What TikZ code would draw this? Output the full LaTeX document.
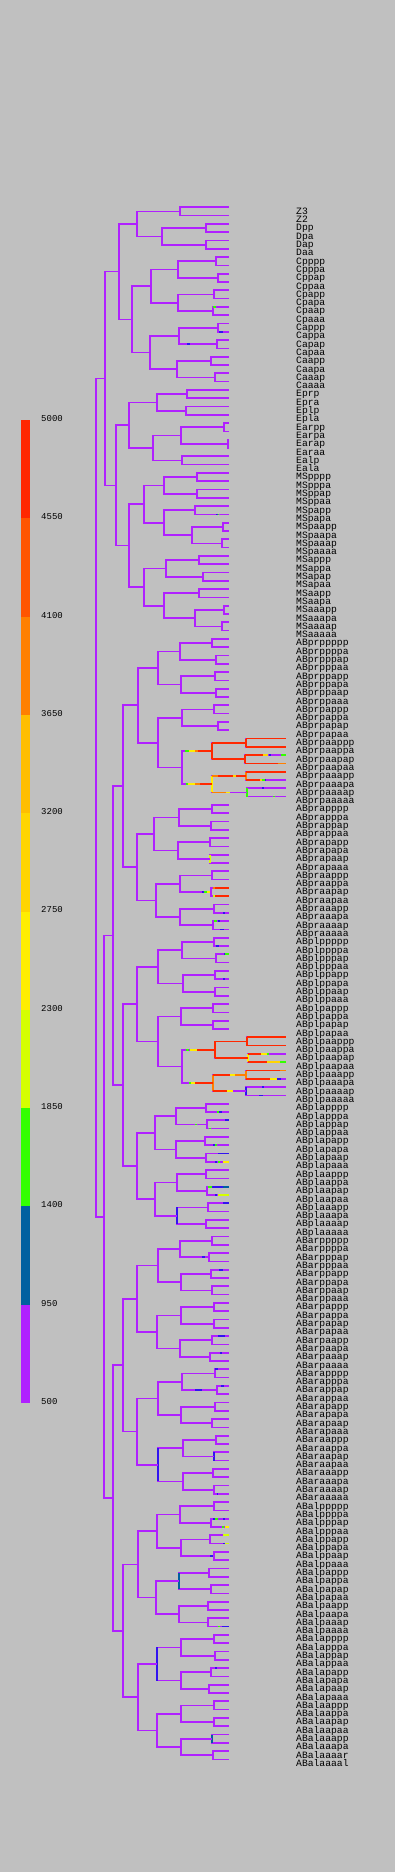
\documentclass[tikz,border=0pt]{standalone}
\usepackage{fontspec}
\setmonofont{Liberation Mono}
\usetikzlibrary{calc}
\definecolor{bg}{RGB}{192,192,192}
\definecolor{c4550}{RGB}{255,40,0}
\definecolor{c4100}{RGB}{255,85,0}
\definecolor{c3650}{RGB}{255,128,0}
\definecolor{c3200}{RGB}{255,190,0}
\definecolor{c2750}{RGB}{255,213,0}
\definecolor{c2300}{RGB}{255,238,0}
\definecolor{c1850}{RGB}{213,255,0}
\definecolor{c1400}{RGB}{51,255,0}
\definecolor{c950}{RGB}{0,96,160}
\definecolor{c500}{RGB}{176,32,255}
\definecolor{deepblue}{RGB}{50,20,240}
% a division: parent, time, upper daughter, lower daughter
\newcommand\dvx[5][c500]{%
  \path (#4) -- (#5) coordinate[pos=.5] (mid);
  \coordinate (xpos) at (#3,0);
  \coordinate (#2) at (mid -| xpos);
  \draw[tree] (#2) |- (#4);
  \draw[tree] (#2) |- (#5);
  \draw[tree,#1] (#4 -| #2) -- (#5 -| #2);}
\newcommand\dv[3][c500]{\dvx[#1]{#2}{#3}{#2p}{#2a}}
% coloured stretch of a branch
\newcommand\seg[4]{\draw[tree,#4] ($(#1 -| o)+(#2,0)$) -- ($(#1 -| o)+(#3,0)$);}
\begin{document}
\begin{tikzpicture}[
  x=1pt, y=-1pt,
  tree/.style={draw=c500, line width=1.7pt},
  lbl/.style={anchor=base west, inner sep=0pt, font=\ttfamily\fontsize{9.7}{10}\selectfont},
  key/.style={anchor=west, inner sep=0pt, font=\ttfamily\fontsize{9}{9}\selectfont}
]
\useasboundingbox (0,0) rectangle (395,1872);
\fill[bg] (0,0) rectangle (395,1872);
\coordinate (o) at (0,0);

% colour key
\foreach \c [count=\i from 0] in {c4550,c4100,c3650,c3200,c2750,c2300,c1850,c1400,c950,c500}
  \fill[\c] (21,{420+98.3*\i}) rectangle (30,{420+98.3*(\i+1)});
\foreach \v [count=\i from 0] in {5000,4550,4100,3650,3200,2750,2300,1850,1400,950,500}
  \node[key] (k\v) at (41,{418.5+98.3*\i}) {\v};

% cells
\foreach \nm [count=\k from 0] in {Z3,Z2,Dpp,Dpa,Dap,Daa,
  Cpppp,Cpppa,Cppap,Cppaa,Cpapp,Cpapa,Cpaap,Cpaaa,Cappp,Cappa,Capap,Capaa,Caapp,Caapa,Caaap,Caaaa,
  Eprp,Epra,Eplp,Epla,Earpp,Earpa,Earap,Earaa,Ealp,Eala,
  MSpppp,MSpppa,MSppap,MSppaa,MSpapp,MSpapa,MSpaapp,MSpaapa,MSpaaap,MSpaaaa,
  MSappp,MSappa,MSapap,MSapaa,MSaapp,MSaapa,MSaaapp,MSaaapa,MSaaaap,MSaaaaa,
  ABprppppp,ABprppppa,ABprpppap,ABprpppaa,ABprppapp,ABprppapa,ABprppaap,ABprppaaa,
  ABprpappp,ABprpappa,ABprpapap,ABprpapaa,ABprpaappp,ABprpaappa,ABprpaapap,ABprpaapaa,
  ABprpaaapp,ABprpaaapa,ABprpaaaap,ABprpaaaaa,
  ABprapppp,ABprapppa,ABprappap,ABprappaa,ABprapapp,ABprapapa,ABprapaap,ABprapaaa,
  ABpraappp,ABpraappa,ABpraapap,ABpraapaa,ABpraaapp,ABpraaapa,ABpraaaap,ABpraaaaa,
  ABplppppp,ABplppppa,ABplpppap,ABplpppaa,ABplppapp,ABplppapa,ABplppaap,ABplppaaa,
  ABplpappp,ABplpappa,ABplpapap,ABplpapaa,ABplpaappp,ABplpaappa,ABplpaapap,ABplpaapaa,
  ABplpaaapp,ABplpaaapa,ABplpaaaap,ABplpaaaaa,
  ABplapppp,ABplapppa,ABplappap,ABplappaa,ABplapapp,ABplapapa,ABplapaap,ABplapaaa,
  ABplaappp,ABplaappa,ABplaapap,ABplaapaa,ABplaaapp,ABplaaapa,ABplaaaap,ABplaaaaa,
  ABarppppp,ABarppppa,ABarpppap,ABarpppaa,ABarppapp,ABarppapa,ABarppaap,ABarppaaa,
  ABarpappp,ABarpappa,ABarpapap,ABarpapaa,ABarpaapp,ABarpaapa,ABarpaaap,ABarpaaaa,
  ABarapppp,ABarapppa,ABarappap,ABarappaa,ABarapapp,ABarapapa,ABarapaap,ABarapaaa,
  ABaraappp,ABaraappa,ABaraapap,ABaraapaa,ABaraaapp,ABaraaapa,ABaraaaap,ABaraaaaa,
  ABalppppp,ABalppppa,ABalpppap,ABalpppaa,ABalppapp,ABalppapa,ABalppaap,ABalppaaa,
  ABalpappp,ABalpappa,ABalpapap,ABalpapaa,ABalpaapp,ABalpaapa,ABalpaaap,ABalpaaaa,
  ABalapppp,ABalapppa,ABalappap,ABalappaa,ABalapapp,ABalapapa,ABalapaap,ABalapaaa,
  ABalaappp,ABalaappa,ABalaapap,ABalaapaa,ABalaaapp,ABalaaapa,ABalaaaar,ABalaaaal}{
  \coordinate (\nm) at (229,{207.3+8.3*\k});
  \node[lbl] (t\nm) at (296,{214.3+8.3*\k}) {\nm};
}
\coordinate (xend) at (286,0);
\foreach \nm in {ABprpaappp,ABprpaappa,ABprpaapap,ABprpaapaa,ABprpaaapp,ABprpaaapa,ABprpaaaap,ABprpaaaaa,
  ABplpaappp,ABplpaappa,ABplpaapap,ABplpaapaa,ABplpaaapp,ABplpaaapa,ABplpaaaap,ABplpaaaaa}
  \coordinate (\nm) at (\nm -| xend);

% P lineage, C, E, MS
\dvx{P4}{180}{Z3}{Z2}
\dv{Dp}{206} \dv{Da}{206} \dv{D}{162}
\dvx{P3}{137}{P4}{D}
\dv{Cppp}{216} \dv{Cppa}{217.7} \dv{Cpp}{178}
\dv{Cpap}{214} \dv{Cpaa}{213} \dv{Cpa}{178} \dv{Cp}{151}
\dv{Capp}{217.7} \dv{Capa}{216.7} \dv{Cap}{179.3}
\dv{Caap}{210.7} \dv{Caaa}{215} \dv{Caa}{177} \dv{Ca}{150} \dv{C}{132}
\dvx{P2}{119.3}{P3}{C}
\dv{Epr}{186.7} \dv{Epl}{185.7} \dvx{Ep}{157}{Epr}{Epl}
\dv{Earp}{224} \dv{Eara}{227.7} \dvx{Ear}{180.7}{Earp}{Eara} \dv{Eal}{181.7}
\dvx{Ea}{152.7}{Ear}{Eal} \dv{E}{129}
\dv{MSppp}{196.7} \dv{MSppa}{196.7} \dv{MSpp}{163.7}
\dv{MSpap}{194.7} \dv{MSpaap}{222.7} \dv{MSpaaa}{222} \dv{MSpaa}{191.7} \dv{MSpa}{163.7} \dv{MSp}{143.7}
\dv{MSapp}{199.3} \dv{MSapa}{202.7} \dv{MSap}{166}
\dv{MSaap}{198.7} \dv{MSaaap}{224} \dv{MSaaaa}{222} \dv{MSaaa}{194.7} \dv{MSaa}{163.7} \dv{MSa}{143.7} \dv{MS}{129}
\dvx{EMS}{115.7}{E}{MS}
\dvx{P1}{105}{P2}{EMS}

% ABpr
\dv{ABprpppp}{212} \dv{ABprpppa}{216} \dv{ABprppp}{180}
\dv{ABprppap}{215} \dv{ABprppaa}{216} \dv{ABprppa}{181} \dv{ABprpp}{157.7}
\dv{ABprpapp}{214} \dv{ABprpapa}{217.7} \dv{ABprpap}{181.7}
\dv[c4550]{ABprpaapp}{245.7} \dv[c4550]{ABprpaapa}{245} \dv[c4550]{ABprpaap}{212}
\dv[c3650]{ABprpaaap}{245.7} \dv[c1400]{ABprpaaaa}{246.7} \dv[c2300]{ABprpaaa}{212}
\dv{ABprpaa}{181.7} \dv{ABprpa}{157.7} \dv{ABprp}{137.7}
\dv{ABprappp}{212} \dv{ABprappa}{210.7} \dv{ABprapp}{178.7}
\dv{ABprapap}{209.7} \dv[c1850]{ABprapaa}{210} \dv{ABprapa}{177.7} \dv{ABprap}{154.3}
\dv{ABpraapp}{212} \dv{ABpraapa}{211} \dv{ABpraap}{179.7}
\dv{ABpraaap}{214} \dv{ABpraaaa}{213} \dv{ABpraaa}{179.7} \dv{ABpraa}{156} \dv{ABpra}{136.7}
\dvx{ABpr}{123.3}{ABprp}{ABpra}

% ABpl
\dv{ABplpppp}{214} \dv{ABplpppa}{216} \dv{ABplppp}{181.7}
\dv{ABplppap}{215} \dv{ABplppaa}{214.7} \dv{ABplppa}{182.7} \dv{ABplpp}{157.7}
\dv{ABplpapp}{213} \dv{ABplpapa}{213} \dv{ABplpap}{180.7}
\dv[c4550]{ABplpaapp}{246.7} \dv[c2300]{ABplpaapa}{248.3} \dv[c4550]{ABplpaap}{215}
\dv[c3650]{ABplpaaap}{245.7} \dv[deepblue]{ABplpaaaa}{245.7} \dv[c3650]{ABplpaaa}{212.7}
\dv{ABplpaa}{181.7} \dv{ABplpa}{157.7} \dv{ABplp}{136.7}
\dv{ABplappp}{206} \dv{ABplappa}{206.7} \dv{ABplapp}{176}
\dv{ABplapap}{205.3} \dv{ABplapaa}{206} \dv{ABplapa}{175.7} \dv{ABplap}{155}
\dv{ABplaapp}{206} \dv{ABplaapa}{206.7} \dv{ABplaap}{176.7}
\dv{ABplaaap}{207.7} \dv{ABplaaaa}{206} \dv[deepblue]{ABplaaa}{176.7} \dv{ABplaa}{155} \dv{ABpla}{136.7}
\dvx{ABpl}{123.3}{ABplp}{ABpla}
\dvx{ABp}{113.3}{ABpr}{ABpl}

% ABar
\dv{ABarpppp}{212} \dv{ABarpppa}{208.7} \dv{ABarppp}{179.7}
\dv{ABarppap}{210.7} \dv{ABarppaa}{212} \dv{ABarppa}{180.7} \dv{ABarpp}{157.7}
\dv{ABarpapp}{213.7} \dv{ABarpapa}{213.7} \dv{ABarpap}{180.7}
\dv{ABarpaap}{212} \dv{ABarpaaa}{210} \dv{ABarpaa}{179.7} \dv{ABarpa}{157} \dv{ABarp}{136.7}
\dv{ABarappp}{215} \dv{ABarappa}{216.7} \dv{ABarapp}{181.7}
\dv{ABarapap}{214.7} \dv{ABarapaa}{212} \dv{ABarapa}{180.7} \dv{ABarap}{157.7}
\dv{ABaraapp}{216} \dv[deepblue]{ABaraapa}{213.7} \dv{ABaraap}{182.7}
\dv{ABaraaap}{213} \dv{ABaraaaa}{213.7} \dv{ABaraaa}{182.7} \dv[deepblue]{ABaraa}{157.7} \dv{ABara}{136.7}
\dvx{ABar}{123.3}{ABarp}{ABara}

% ABal
\dv{ABalpppp}{213.7} \dv{ABalpppa}{210.7} \dv{ABalppp}{179.7}
\dv{ABalppap}{209.7} \dv{ABalppaa}{213.7} \dv{ABalppa}{180.7} \dv{ABalpp}{157}
\dv{ABalpapp}{208.7} \dv{ABalpapa}{210.7} \dv[c950]{ABalpap}{178.7}
\dv{ABalpaap}{208} \dv{ABalpaaa}{208} \dv{ABalpaa}{178.7} \dv{ABalpa}{156} \dv{ABalp}{137.7}
\dv{ABalappp}{213.7} \dv{ABalappa}{214.7} \dv{ABalapp}{180.7}
\dv{ABalapap}{210.7} \dv{ABalapaa}{208.7} \dv{ABalapa}{180.7} \dv[deepblue]{ABalap}{157}
\dv{ABalaapp}{213.7} \dv{ABalaapa}{213.7} \dv{ABalaap}{180.7}
\dv[c950]{ABalaaap}{212} \dvx{ABalaaaa}{213}{ABalaaaar}{ABalaaaal} \dv{ABalaaa}{180.7}
\dv{ABalaa}{157} \dv{ABala}{137.7}
\dvx{ABal}{123.3}{ABalp}{ABala}
\dvx{ABa}{112.7}{ABar}{ABal}
\dv{AB}{104}
\dvx{P0}{95.7}{P1}{AB}

% coloured stretches
\seg{ABprpaap}{185}{189}{c1400} \seg{ABprpaap}{189}{195}{c2300}
\seg{ABprpaap}{195}{198}{c3650} \seg{ABprpaap}{198}{212}{c4550}
\seg{ABprpaapp}{212}{245.7}{c4550} \seg{ABprpaapa}{212}{245}{c4550}
\seg{ABprpaappp}{245.7}{286}{c4550} \seg{ABprpaappa}{245.7}{286}{c4550}
\seg{ABprpaapap}{245}{263}{c4550} \seg{ABprpaapap}{263}{268}{c2750}
\seg{ABprpaapap}{269}{271}{deepblue} \seg{ABprpaapap}{281}{286}{c1400}
\seg{ABprpaapaa}{245}{278}{c4550} \seg{ABprpaapaa}{278}{286}{c3650}
\seg{ABprpaaa}{186}{188}{c1400} \seg{ABprpaaa}{188}{195}{c2300}
\seg{ABprpaaa}{195}{200}{c3650} \seg{ABprpaaa}{200}{212}{c4550}
\seg{ABprpaaap}{212}{218}{c3650} \seg{ABprpaaap}{218}{233}{c4550}
\seg{ABprpaaap}{233}{236}{c2750} \seg{ABprpaaap}{236}{245.7}{c4550}
\seg{ABprpaaapp}{245.7}{286}{c4550}
\seg{ABprpaaapa}{245.7}{260}{c4550} \seg{ABprpaaapa}{260}{262}{c2750}
\seg{ABprpaaapa}{262}{265}{c1400} \seg{ABprpaaapa}{265}{266}{deepblue}
\seg{ABprpaaaa}{212}{226}{c3650} \seg{ABprpaaaa}{226}{230}{c2300}
\seg{ABprpaaaap}{262}{263.5}{deepblue} \seg{ABprpaaaaa}{273}{275}{c1400}
\seg{ABpraapa}{202}{204}{deepblue} \seg{ABpraapa}{204}{207}{c1400} \seg{ABpraapa}{207}{210}{c2300}
\seg{ABpraapap}{212.7}{215}{c3650} \seg{ABpraapap}{215}{229}{c4550}
\seg{ABpraapaa}{212.7}{214.5}{c1850} \seg{ABpraapaa}{215}{229}{c4550}
\seg{ABplpaap}{186}{189}{c1400} \seg{ABplpaap}{190}{197}{c2300} \seg{ABplpaap}{197}{215}{c4550}
\seg{ABplpaapp}{215}{246.7}{c4550} \seg{ABplpaapa}{215}{248.3}{c4550}
\seg{ABplpaappp}{246.7}{286}{c4550} \seg{ABplpaappa}{246.7}{286}{c4550}
\seg{ABplpaapap}{248.3}{261}{c4550} \seg{ABplpaapap}{261}{266.7}{c2300} \seg{ABplpaapap}{266.7}{269}{c1400}
\seg{ABplpaapaa}{248.3}{267}{c4550} \seg{ABplpaapaa}{267}{280}{c2750} \seg{ABplpaapaa}{280}{286}{c1400}
\seg{ABplpaaa}{189}{191}{c1400} \seg{ABplpaaa}{191}{195}{c2300} \seg{ABplpaaa}{195}{212.7}{c4550}
\seg{ABplpaaap}{212.7}{230}{c4550} \seg{ABplpaaap}{230}{235}{c2300} \seg{ABplpaaap}{235}{245.7}{c3650}
\seg{ABplpaaapp}{245.7}{280}{c4550} \seg{ABplpaaapp}{280}{286}{c3650}
\seg{ABplpaaapa}{245.7}{270}{c4550} \seg{ABplpaaapa}{270}{276.7}{c2300} \seg{ABplpaaapa}{276.7}{281}{deepblue}
\seg{ABplpaaaa}{212.7}{226.7}{c4550} \seg{ABplpaaaa}{226.7}{233}{c2300}
\seg{ABplpaaaap}{262}{263.5}{deepblue} \seg{ABplpaaaaa}{259}{262.7}{deepblue}
\seg{Cpaap}{213}{216}{c1400} \seg{Cappa}{219}{223}{deepblue} \seg{Capa}{187}{190}{deepblue}
\seg{MSpapa}{216}{217.5}{deepblue} \seg{MSpapa}{217.5}{219}{c1400}
\seg{ABpraaapa}{223}{225}{deepblue} \seg{ABpraaaap}{214}{216.7}{c1400} \seg{ABpraaaap}{217.7}{220}{deepblue}
\seg{ABpraaaaa}{220}{224}{deepblue}
\seg{ABplppppa}{215.7}{218.7}{deepblue} \seg{ABplpppap}{224}{225}{deepblue} \seg{ABplpppap}{225}{229}{c1400}
\seg{ABplppapa}{223.3}{225}{deepblue}
\seg{ABplapppa}{216.7}{218.5}{c1400} \seg{ABplapppa}{218.5}{221.7}{deepblue}
\seg{ABplappap}{225}{229}{deepblue} \seg{ABplappa}{195}{196.7}{c1400} \seg{ABplappaa}{209.3}{210.7}{c1400}
\seg{ABplapapa}{213.3}{215}{deepblue} \seg{ABplapapa}{215}{217}{c1400}
\seg{ABplapaap}{218.3}{229}{deepblue}
\seg{ABplapaaa}{215}{216.7}{deepblue} \seg{ABplapaaa}{218.3}{220}{c1400} \seg{ABplapaaa}{223.3}{229}{c2300}
\seg{ABplaapap}{208}{212}{c1400} \seg{ABplaapap}{212}{223}{deepblue} \seg{ABplaapap}{223}{229}{c950}
\seg{ABplaapaa}{215}{216.7}{deepblue} \seg{ABplaapaa}{218}{229}{c1850}
\seg{ABplaaapp}{223}{229}{deepblue}
\seg{ABarppapp}{219}{223}{deepblue} \seg{ABarpppa}{201.7}{205}{deepblue}
\seg{ABarpaapp}{217.7}{225}{deepblue} \seg{ABarpaaap}{220}{222.3}{deepblue}
\seg{ABarapppp}{215}{217.7}{deepblue} \seg{ABarappap}{221}{224}{deepblue} \seg{ABarappa}{195}{201.7}{deepblue}
\seg{ABaraaaaa}{216.7}{218.3}{deepblue}
\seg{ABalpppap}{213.3}{215}{deepblue} \seg{ABalpppap}{215}{217.7}{c1400} \seg{ABalpppap}{223.3}{225}{deepblue}
\seg{ABalpppaa}{222.3}{224}{c1400} \seg{ABalpppaa}{225}{229}{c2300}
\seg{ABalppapp}{223.3}{229}{c1850}
\seg{ABalppapa}{223.3}{225}{deepblue} \seg{ABalppapa}{225}{229}{c1850}
\seg{ABalppaa}{210}{213.3}{deepblue}
\seg{ABalpaaaa}{217.7}{220}{c1400} \seg{ABalpaaaa}{221.7}{229}{deepblue}
\seg{ABalapapp}{215}{216.7}{deepblue}
\end{tikzpicture}
\end{document}
